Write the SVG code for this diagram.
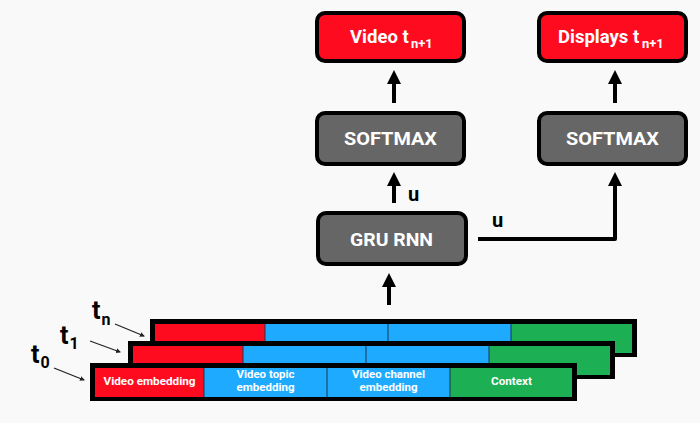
<svg xmlns="http://www.w3.org/2000/svg" width="700" height="423" viewBox="0 0 700 423">
<defs>
<style>
.bg{fill:#f9f9f9}
.red{fill:#ff0b1f;stroke:#000;stroke-width:4}
.gray{fill:#666666;stroke:#000;stroke-width:4}
.lbl{font-family:Roboto,"Liberation Sans",sans-serif;font-weight:bold;fill:#fff}
.blk{font-family:Roboto,"Liberation Sans",sans-serif;font-weight:bold;fill:#000}
.conn{fill:none;stroke:#000;stroke-width:4;stroke-linejoin:round}
.ptr{fill:none;stroke:#222;stroke-width:1.2}
.sr{fill:#ff0b1f}
.sb{fill:#1eabff}
.sg{fill:#1daf54}
.div{stroke:#1a3550;stroke-width:1}
</style>
<marker id="ah" markerUnits="userSpaceOnUse" markerWidth="14" markerHeight="14" refX="0" refY="7" orient="auto" viewBox="0 0 14 14">
<path d="M0,0 L14,7 L0,14 z" fill="#000"/>
</marker>
<marker id="ahs" markerUnits="userSpaceOnUse" markerWidth="5" markerHeight="5" refX="4" refY="2.5" orient="auto" viewBox="0 0 5 5">
<path d="M0,0 L5,2.5 L0,5 z" fill="#222"/>
</marker>
</defs>
<rect class="bg" x="0" y="0" width="700" height="423"/>

<g id="video_out">
<rect class="red" x="317" y="13" width="147" height="48" rx="8"/>
<text class="lbl" x="350" y="43" font-size="18.5">Video t<tspan x="411" dy="5" font-size="13">n+1</tspan></text>
</g>

<g id="displays_out">
<rect class="red" x="539" y="13" width="147" height="48" rx="8"/>
<text class="lbl" x="558" y="43" font-size="18.5">Displays t<tspan x="642" dy="5" font-size="13">n+1</tspan></text>
</g>

<g id="softmax_video">
<rect class="gray" x="317" y="113" width="147" height="51" rx="8"/>
<text class="lbl" x="390.5" y="145" font-size="18.5" text-anchor="middle" textLength="93" lengthAdjust="spacingAndGlyphs">SOFTMAX</text>
</g>

<g id="softmax_displays">
<rect class="gray" x="539" y="113" width="147" height="51" rx="8"/>
<text class="lbl" x="612.5" y="145" font-size="18.5" text-anchor="middle" textLength="93" lengthAdjust="spacingAndGlyphs">SOFTMAX</text>
</g>

<g id="gru_rnn">
<rect class="gray" x="318" y="213" width="148" height="51" rx="8"/>
<text class="lbl" x="391.5" y="246" font-size="18.5" text-anchor="middle" textLength="83" lengthAdjust="spacingAndGlyphs">GRU RNN</text>
</g>

<g id="input_tn">
<rect x="150" y="319" width="487" height="38" fill="#000"/>
<rect class="sr" x="155" y="324" width="110" height="29"/>
<rect class="sb" x="265" y="324" width="246" height="29"/>
<rect class="sg" x="511" y="324" width="121" height="29"/>
<line class="div" x1="265" y1="324" x2="265" y2="353"/>
<line class="div" x1="388" y1="324" x2="388" y2="353"/>
<line class="div" x1="511" y1="324" x2="511" y2="353"/>
</g>

<g id="input_t1">
<rect x="128" y="341" width="487" height="38" fill="#000"/>
<rect class="sr" x="133" y="346" width="110" height="29"/>
<rect class="sb" x="243" y="346" width="246" height="29"/>
<rect class="sg" x="489" y="346" width="121" height="29"/>
<line class="div" x1="243" y1="346" x2="243" y2="375"/>
<line class="div" x1="366" y1="346" x2="366" y2="375"/>
<line class="div" x1="489" y1="346" x2="489" y2="375"/>
</g>

<g id="input_t0">
<rect x="90" y="363" width="487" height="38" fill="#000"/>
<rect class="sr" x="95" y="368" width="109" height="29"/>
<rect class="sb" x="204" y="368" width="246" height="29"/>
<rect class="sg" x="450" y="368" width="122" height="29"/>
<line class="div" x1="204" y1="368" x2="204" y2="397"/>
<line class="div" x1="327" y1="368" x2="327" y2="397"/>
<line class="div" x1="450" y1="368" x2="450" y2="397"/>
<text class="lbl" x="149.5" y="385" font-size="11.5" text-anchor="middle" textLength="92" lengthAdjust="spacingAndGlyphs">Video embedding</text>
<text class="lbl" x="265.5" y="378" font-size="11.5" text-anchor="middle" textLength="58" lengthAdjust="spacingAndGlyphs">Video topic</text>
<text class="lbl" x="265.5" y="391" font-size="11.5" text-anchor="middle" textLength="58" lengthAdjust="spacingAndGlyphs">embedding</text>
<text class="lbl" x="388.5" y="378" font-size="11.5" text-anchor="middle" textLength="73" lengthAdjust="spacingAndGlyphs">Video channel</text>
<text class="lbl" x="388.5" y="391" font-size="11.5" text-anchor="middle" textLength="58" lengthAdjust="spacingAndGlyphs">embedding</text>
<text class="lbl" x="511.5" y="385" font-size="11.5" text-anchor="middle" textLength="41" lengthAdjust="spacingAndGlyphs">Context</text>
</g>

<g id="time_labels">
<text class="blk" x="31" y="363" font-size="25">t<tspan dx="1" dy="5" font-size="16">0</tspan></text>
<text class="blk" x="60" y="344" font-size="25">t<tspan dx="1" dy="5" font-size="16">1</tspan></text>
<text class="blk" x="92" y="319" font-size="25">t<tspan dx="1" dy="6" font-size="16">n</tspan></text>
</g>

<g id="connectors">
<line class="conn" x1="394" y1="103" x2="394" y2="84" marker-end="url(#ah)"/>
<line class="conn" x1="615" y1="103" x2="615" y2="84" marker-end="url(#ah)"/>
<line class="conn" x1="394" y1="203" x2="394" y2="186" marker-end="url(#ah)"/>
<line class="conn" x1="389" y1="305" x2="389" y2="287" marker-end="url(#ah)"/>
<path class="conn" d="M478,239 H615 V186" marker-end="url(#ah)"/>
<text class="blk" x="408" y="201" font-size="20">u</text>
<text class="blk" x="492" y="227" font-size="20">u</text>
<line class="ptr" x1="54" y1="368" x2="84" y2="380" marker-end="url(#ahs)"/>
<line class="ptr" x1="90" y1="341" x2="120" y2="352" marker-end="url(#ahs)"/>
<line class="ptr" x1="115" y1="324" x2="144" y2="336" marker-end="url(#ahs)"/>
</g>
</svg>
